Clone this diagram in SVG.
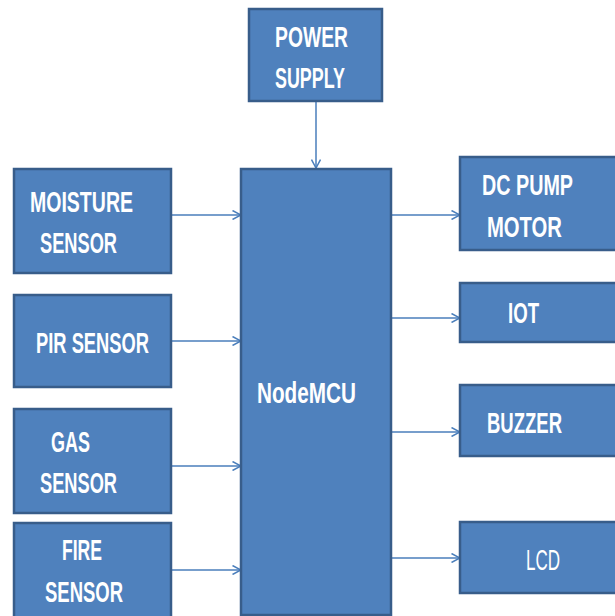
<svg xmlns="http://www.w3.org/2000/svg" width="615" height="616" viewBox="0 0 615 616">
<style>
.box{fill:#4F81BD;stroke:#385D8A;stroke-width:2.5}
.t{font-family:"Liberation Sans",Arial,sans-serif;font-weight:bold;font-size:29px;fill:#FFFFFF}
.tl{font-family:"Liberation Sans",Arial,sans-serif;font-weight:normal;font-size:29px;fill:#FFFFFF}
.c{stroke:#4A7EBB;stroke-width:1.5;fill:none}
</style>
<defs>
<marker id="ah" viewBox="0 0 10 10" refX="9.5" refY="5" markerWidth="10" markerHeight="10" markerUnits="userSpaceOnUse" orient="auto">
<path d="M1,0.5 L9.5,5 L1,9.5" fill="none" stroke="#4A7EBB" stroke-width="1.5"/>
</marker>
</defs>
<rect width="615" height="616" fill="#FFFFFF"/>
<g id="connectors">
<line class="c" x1="316" y1="102" x2="316" y2="168" marker-end="url(#ah)"/>
<line class="c" x1="172" y1="215" x2="241" y2="215" marker-end="url(#ah)"/>
<line class="c" x1="172" y1="341" x2="241" y2="341" marker-end="url(#ah)"/>
<line class="c" x1="172" y1="466" x2="241" y2="466" marker-end="url(#ah)"/>
<line class="c" x1="172" y1="570" x2="241" y2="570" marker-end="url(#ah)"/>
<line class="c" x1="391" y1="215" x2="460" y2="215" marker-end="url(#ah)"/>
<line class="c" x1="391" y1="318" x2="460" y2="318" marker-end="url(#ah)"/>
<line class="c" x1="391" y1="432" x2="460" y2="432" marker-end="url(#ah)"/>
<line class="c" x1="391" y1="558" x2="460" y2="558" marker-end="url(#ah)"/>
</g>
<g id="power">
<rect class="box" x="249" y="9" width="133" height="92"/>
<text class="t" x="275" y="47" textLength="73" lengthAdjust="spacingAndGlyphs">POWER</text>
<text class="t" x="275" y="88" textLength="70" lengthAdjust="spacingAndGlyphs">SUPPLY</text>
</g>
<g id="nodemcu">
<rect class="box" x="241" y="169" width="150" height="446"/>
<text class="t" x="257" y="403" textLength="99" lengthAdjust="spacingAndGlyphs">NodeMCU</text>
</g>
<g id="moisture">
<rect class="box" x="14" y="169" width="157" height="104"/>
<text class="t" x="30" y="212" textLength="103" lengthAdjust="spacingAndGlyphs">MOISTURE</text>
<text class="t" x="40" y="253" textLength="77" lengthAdjust="spacingAndGlyphs">SENSOR</text>
</g>
<g id="pir">
<rect class="box" x="14" y="295" width="157" height="92"/>
<text class="t" x="36" y="353" textLength="113" lengthAdjust="spacingAndGlyphs">PIR SENSOR</text>
</g>
<g id="gas">
<rect class="box" x="14" y="409" width="157" height="104"/>
<text class="t" x="51" y="452" textLength="39" lengthAdjust="spacingAndGlyphs">GAS</text>
<text class="t" x="40" y="493" textLength="77" lengthAdjust="spacingAndGlyphs">SENSOR</text>
</g>
<g id="fire">
<rect class="box" x="14" y="523" width="157" height="104"/>
<text class="t" x="62" y="560" textLength="40" lengthAdjust="spacingAndGlyphs">FIRE</text>
<text class="t" x="45" y="602" textLength="78" lengthAdjust="spacingAndGlyphs">SENSOR</text>
</g>
<g id="dcpump">
<rect class="box" x="460" y="157" width="170" height="93"/>
<text class="t" x="482" y="195" textLength="91" lengthAdjust="spacingAndGlyphs">DC PUMP</text>
<text class="t" x="487" y="237" textLength="75" lengthAdjust="spacingAndGlyphs">MOTOR</text>
</g>
<g id="iot">
<rect class="box" x="460" y="283" width="170" height="59"/>
<text class="t" x="508" y="323" textLength="31" lengthAdjust="spacingAndGlyphs">IOT</text>
</g>
<g id="buzzer">
<rect class="box" x="460" y="385" width="170" height="71"/>
<text class="t" x="487" y="433" textLength="75" lengthAdjust="spacingAndGlyphs">BUZZER</text>
</g>
<g id="lcd">
<rect class="box" x="460" y="522" width="170" height="71"/>
<text class="tl" x="526" y="570" textLength="34" lengthAdjust="spacingAndGlyphs">LCD</text>
</g>
</svg>
